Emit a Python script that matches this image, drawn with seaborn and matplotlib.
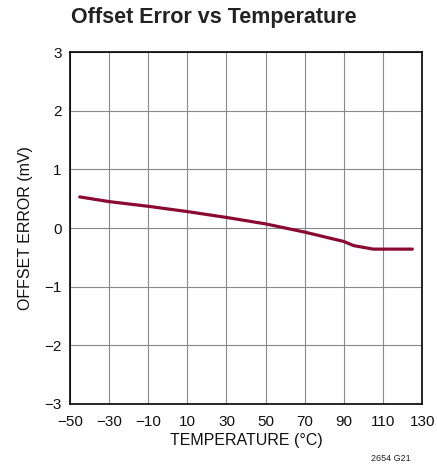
import matplotlib
matplotlib.use("Agg")
import matplotlib.pyplot as plt
import seaborn as sns
import pandas as pd

temperature = [-45, -30, -10, 10, 30, 50, 70, 90, 95, 105, 125]
offset_error = [0.53, 0.45, 0.37, 0.28, 0.18, 0.07, -0.07, -0.23, -0.30, -0.36, -0.36]
x_ticks = [-50, -30, -10, 10, 30, 50, 70, 90, 110, 130]
y_ticks = [-3, -2, -1, 0, 1, 2, 3]

sns.set_style("white")
plt.rcParams['font.family'] = ['Liberation Sans', 'DejaVu Sans']

df = pd.DataFrame({"t": temperature, "e": offset_error})

fig = plt.figure(figsize=(4.37, 4.69), dpi=100)
ax = fig.add_axes([0.160, 0.1386, 0.806, 0.7505])
sns.lineplot(data=df, x="t", y="e", ax=ax, color="#8B0A32", linewidth=2.3)
ax.set_xlim(-50, 130)
ax.set_ylim(-3, 3)
ax.set_xticks(x_ticks)
ax.set_yticks(y_ticks)
ax.set_xticklabels([str(v).replace('-', '\u2212') for v in x_ticks])
ax.set_yticklabels([str(v).replace('-', '\u2212') for v in y_ticks])
ax.grid(True, color="#888888", linewidth=0.8)
for s in ax.spines.values():
    s.set_color("black")
    s.set_linewidth(1.2)
ax.tick_params(axis='both', length=0, labelsize=11, colors="#111111")
ax.tick_params(axis='x', pad=8)
ax.tick_params(axis='y', pad=6)
ax.set_xlabel("TEMPERATURE (°C)", fontsize=11.5, labelpad=3, color="#111111")
ax.set_ylabel("OFFSET ERROR (mV)", fontsize=11.5, labelpad=8, color="#111111")
fig.text(0.163, 0.94, "Offset Error vs Temperature", fontsize=15.5, fontweight="bold", color="#222222", va="bottom")
fig.text(0.94, 0.012, "2654 G21", fontsize=6.5, ha="right", va="bottom", color="#222222")
fig.savefig("out.png", dpi=100)
